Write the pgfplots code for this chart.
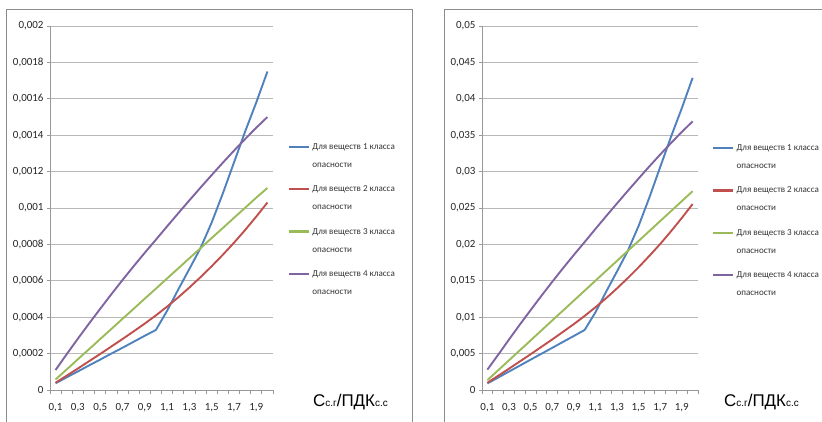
\documentclass[border=0pt]{standalone}
\usepackage{fontspec}
\setmainfont{Carlito}
\newfontfamily\arialf{Liberation Sans}
\usepackage{pgfplots}
\pgfplotsset{compat=1.18}
\usepackage{pgfplotstable}

\definecolor{xblue}{HTML}{4F81BD}
\definecolor{xred}{HTML}{C0504D}
\definecolor{xgreen}{HTML}{9BBB59}
\definecolor{xpurple}{HTML}{8064A2}

\newcommand\lent[1]{\parbox[t]{100bp}{\fontsize{9.1}{18}\selectfont Для веществ #1 класса\\опасности}}

\pgfplotstableread{
x    b1       b2       b3       b4
0.1  0.000037 0.00004  0.000058 0.00011
0.2  0.00007  0.000079 0.000113 0.000197
0.3  0.000102 0.000118 0.000169 0.000282
0.4  0.000135 0.000158 0.000224 0.000365
0.5  0.000167 0.000198 0.00028  0.000446
0.6  0.0002   0.000239 0.000335 0.000526
0.7  0.000232 0.00028  0.000391 0.000604
0.8  0.000265 0.000322 0.000446 0.00068
0.9  0.000298 0.000365 0.000502 0.000754
1.0  0.00033  0.00041  0.000557 0.000826
1.1  0.000435 0.000458 0.000613 0.000899
1.2  0.000552 0.000509 0.000668 0.000971
1.3  0.000665 0.000563 0.000724 0.001042
1.4  0.00078  0.00062  0.000779 0.001112
1.5  0.00092  0.00068  0.000835 0.001181
1.6  0.00108  0.000743 0.00089  0.001249
1.7  0.00125  0.000809 0.000946 0.001315
1.8  0.00142  0.000879 0.001001 0.001379
1.9  0.00158  0.000953 0.001057 0.001441
2.0  0.00175  0.00103  0.00111  0.0015
}\lefttable

\pgfplotstableread{
x    b1       b2       b3       b4
0.1  0.00091  0.00099  0.00135  0.0028
0.2  0.00172  0.00196  0.00272  0.004846
0.3  0.00254  0.00293  0.00408  0.006937
0.4  0.00335  0.00392  0.00545  0.008979
0.5  0.00417  0.00491  0.00681  0.010972
0.6  0.00498  0.00593  0.00818  0.01294
0.7  0.00579  0.00694  0.00955  0.014858
0.8  0.00661  0.00799  0.01091  0.016728
0.9  0.00742  0.00905  0.01228  0.018548
1.0  0.00824  0.01017  0.01364  0.02032
1.1  0.01066  0.01136  0.01501  0.022115
1.2  0.01352  0.01262  0.01638  0.023887
1.3  0.01629  0.01396  0.01774  0.025633
1.4  0.01911  0.01538  0.01911  0.027355
1.5  0.02254  0.01686  0.02047  0.029053
1.6  0.02646  0.01843  0.02184  0.030725
1.7  0.03063  0.02006  0.02321  0.032349
1.8  0.03479  0.0218   0.02457  0.033923
1.9  0.03871  0.02363  0.02594  0.035449
2.0  0.04288  0.02554  0.02731  0.0369
}\righttable

\pgfplotsset{
  chart/.style={
    scale only axis, height=364bp,
    xmin=0.05, xmax=2.05, ymin=0,
    axis x line*=bottom, axis y line*=left,
    axis line style={draw=black!40, line width=0.8bp},
    xtick={0.1,0.3,0.5,0.7,0.9,1.1,1.3,1.5,1.7,1.9},
    xticklabels={0{,}1,0{,}3,0{,}5,0{,}7,0{,}9,1{,}1,1{,}3,1{,}5,1{,}7,1{,}9},
    major x tick style={draw=none},
    minor xtick={0.05,0.15,0.25,0.35,0.45,0.55,0.65,0.75,0.85,0.95,1.05,1.15,1.25,1.35,1.45,1.55,1.65,1.75,1.85,1.95,2.05},
    minor x tick style={draw=black!40, line width=0.8bp},
    minor tick length=4bp,
    major tick length=3bp,
    tick align=outside,
    y tick style={draw=black!40, line width=0.8bp},
    ymajorgrids, grid style={black!28, line width=0.8bp},
    tick label style={font=\fontsize{11}{13}\selectfont, text=black!85},
    xticklabel style={yshift=-7bp},
    scaled y ticks=false,
    every axis plot/.append style={line width=1.9bp, no markers, line join=round},
    legend cell align=left,
    legend style={draw=none, fill=none, inner sep=0pt, anchor=north west,
      text=black!80, cells={anchor=base west}, row sep=31bp},
    legend image code/.code={\draw[#1, line width=2.3bp] (0bp,2.5bp) -- (20bp,2.5bp);},
  }
}

\begin{document}
\begin{tikzpicture}[x=1bp,y=1bp]
\path[use as bounding box, clip] (0,0) rectangle (822,421);
\draw[black!45, line width=1bp] (6,-5) -- (6,411) -- (412,411) -- (412,-5);
\draw[black!45, line width=1bp] (444,-5) -- (444,411) -- (830,411);

\begin{axis}[chart, at={(50bp,31bp)}, anchor=south west, width=223bp,
  ymax=0.002,
  ytick={0,0.0002,0.0004,0.0006,0.0008,0.001,0.0012,0.0014,0.0016,0.0018,0.002},
  yticklabels={0,0{,}0002,0{,}0004,0{,}0006,0{,}0008,0{,}001,0{,}0012,0{,}0014,0{,}0016,0{,}0018,0{,}002},
  legend style={at={(1.067,0.683)}}]
\addplot[xblue] table[x=x,y=b1] {\lefttable};
\addlegendentry{\lent{1}}
\addplot[xred] table[x=x,y=b2] {\lefttable};
\addlegendentry{\lent{2}}
\addplot[xgreen] table[x=x,y=b3] {\lefttable};
\addlegendentry{\lent{3}}
\addplot[xpurple] table[x=x,y=b4] {\lefttable};
\addlegendentry{\lent{4}}
\end{axis}

\begin{axis}[chart, at={(482bp,31bp)}, anchor=south west, width=216bp,
  ymax=0.05,
  ytick={0,0.005,0.01,0.015,0.02,0.025,0.03,0.035,0.04,0.045,0.05},
  yticklabels={0,0{,}005,0{,}01,0{,}015,0{,}02,0{,}025,0{,}03,0{,}035,0{,}04,0{,}045,0{,}05},
  legend style={at={(1.065,0.68)}}]
\addplot[xblue] table[x=x,y=b1] {\righttable};
\addlegendentry{\lent{1}}
\addplot[xred] table[x=x,y=b2] {\righttable};
\addlegendentry{\lent{2}}
\addplot[xgreen] table[x=x,y=b3] {\righttable};
\addlegendentry{\lent{3}}
\addplot[xpurple] table[x=x,y=b4] {\righttable};
\addlegendentry{\lent{4}}
\end{axis}

\node[anchor=base west, inner sep=0pt, font=\arialf\fontsize{17}{20}\selectfont] at (313,15)
  {С\raisebox{-0.5bp}{\fontsize{10}{12}\selectfont с.г}/ПДК\raisebox{-0.5bp}{\fontsize{10}{12}\selectfont с.с}};
\node[anchor=base west, inner sep=0pt, font=\arialf\fontsize{17}{20}\selectfont] at (724,15)
  {С\raisebox{-0.5bp}{\fontsize{10}{12}\selectfont с.г}/ПДК\raisebox{-0.5bp}{\fontsize{10}{12}\selectfont с.с}};
\end{tikzpicture}
\end{document}
